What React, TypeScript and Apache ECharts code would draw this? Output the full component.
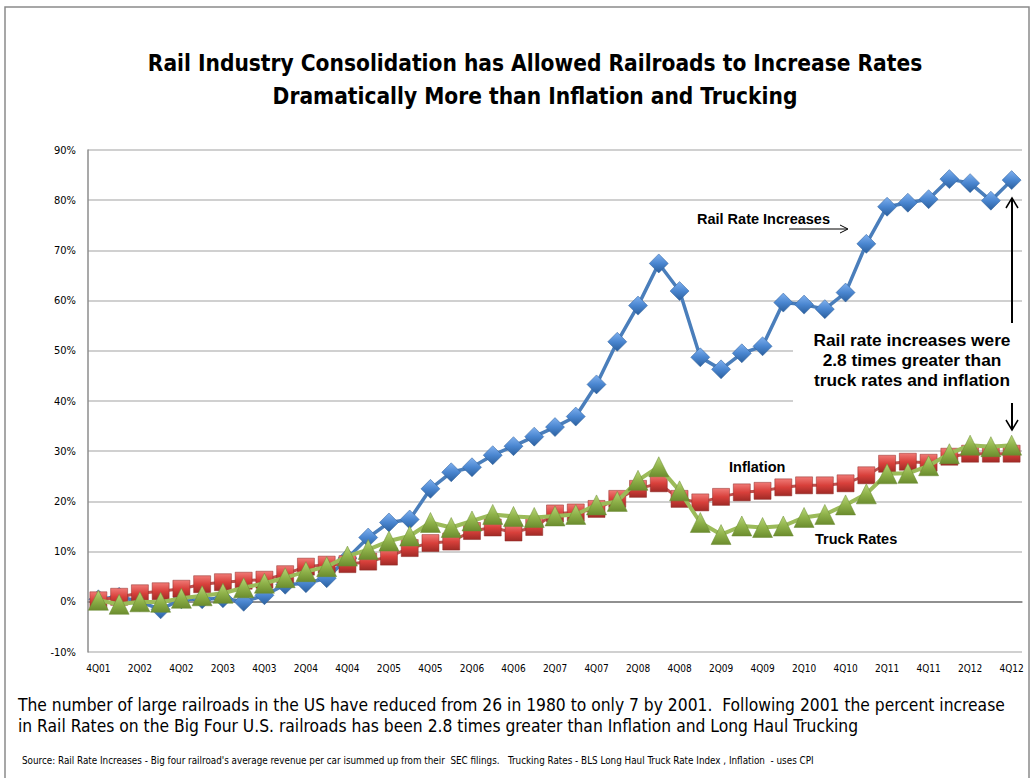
import React, { useEffect, useRef } from "react";
import * as echarts from "echarts";

const quarters = [
  "4Q01", "1Q02", "2Q02", "3Q02", "4Q02", "1Q03", "2Q03", "3Q03", "4Q03",
  "1Q04", "2Q04", "3Q04", "4Q04", "1Q05", "2Q05", "3Q05", "4Q05",
  "1Q06", "2Q06", "3Q06", "4Q06", "1Q07", "2Q07", "3Q07", "4Q07",
  "1Q08", "2Q08", "3Q08", "4Q08", "1Q09", "2Q09", "3Q09", "4Q09",
  "1Q10", "2Q10", "3Q10", "4Q10", "1Q11", "2Q11", "3Q11", "4Q11",
  "1Q12", "2Q12", "3Q12", "4Q12",
];

const railRates = [
  0.5, 1, 0, -1.5, 0.5, 0.5, 0.7, 0, 1.3, 3.4, 3.7, 4.7, 8.7, 12.8, 15.8, 16.4,
  22.5, 25.8, 26.8, 29.2, 31, 32.9, 34.8, 36.9, 43.3, 51.8, 59, 67.4, 61.9,
  48.7, 46.3, 49.5, 50.9, 59.6, 59.2, 58.3, 61.6, 71.3, 78.7, 79.5, 80.2, 84.2,
  83.4, 79.9, 84,
];

const inflation = [
  0.3, 1, 1.7, 2.1, 2.6, 3.5, 3.9, 4.2, 4.4, 5.5, 7, 7.4, 7.5, 8, 9, 10.7, 11.7,
  12, 14.1, 14.8, 13.8, 14.9, 17.6, 17.8, 18.5, 20.5, 22.5, 23.6, 20.5, 19.8,
  20.9, 21.8, 22.1, 22.8, 23.2, 23.2, 23.6, 25.2, 27.5, 27.9, 27.7, 28.9, 29.5,
  29.5, 29.5,
];

const truckRates = [
  0.3, -0.5, 0, -0.1, 0.7, 1.2, 1.7, 2.8, 3.7, 4.8, 6, 7, 9.1, 10.4, 12.1, 13.1,
  15.8, 14.8, 16.1, 17.4, 17, 16.8, 17.1, 17.4, 19.3, 20, 24.2, 26.9, 22.1,
  15.8, 13.4, 15.1, 14.8, 15.1, 16.8, 17.4, 19.3, 21.5, 25.5, 25.6, 27.1, 29.5,
  31.2, 30.9, 31.2,
];

const titleLines = [
  "Rail Industry Consolidation has Allowed Railroads to Increase Rates",
  "Dramatically More than Inflation and Trucking",
];

const footnoteLines = [
  "The number of large railroads in the US have reduced from 26 in 1980 to only 7 by 2001.  Following 2001 the percent increase",
  "in Rail Rates on the Big Four U.S. railroads has been 2.8 times greater than Inflation and Long Haul Trucking",
];

const sourceText =
  "Source: Rail Rate Increases - Big four railroad's average revenue per car isummed up from their  SEC filings.   Trucking Rates - BLS Long Haul Truck Rate Index , Inflation  - uses CPI";

const calloutLines = [
  "Rail rate increases were",
  "2.8 times greater than",
  "truck rates and inflation",
];

const grad = (top: string, mid: string, bottom: string) => ({
  type: "linear",
  x: 0,
  y: 0,
  x2: 0,
  y2: 1,
  colorStops: [
    { offset: 0, color: top },
    { offset: 0.5, color: mid },
    { offset: 1, color: bottom },
  ],
});

const NARROW = "'Liberation Sans Narrow', 'DejaVu Sans Condensed', 'Liberation Sans', sans-serif";
const SANS = "'Liberation Sans', Arial, sans-serif";

export default function App() {
  const ref = useRef<HTMLDivElement>(null);

  useEffect(() => {
    document.body.style.margin = "0";
    const chart = echarts.init(ref.current!, undefined, { renderer: "svg" });
    const option: any = {
      animation: false,
      backgroundColor: "#ffffff",
      grid: { left: 88, right: 14, top: 150, bottom: 126 },
      xAxis: {
        type: "category",
        data: quarters,
        boundaryGap: true,
        axisLine: { show: true, lineStyle: { color: "#8c8c8c", width: 1.5 } },
        axisTick: { show: false },
        axisLabel: {
          interval: 1,
          fontSize: 10,
          color: "#000",
          margin: 11,
          fontFamily: "'DejaVu Sans Condensed', sans-serif",
        },
        splitLine: { show: false },
      },
      yAxis: {
        type: "value",
        min: -10,
        max: 90,
        interval: 10,
        axisLine: { show: true, lineStyle: { color: "#8c8c8c", width: 1.5 } },
        axisTick: { show: false },
        axisLabel: {
          formatter: "{value}%",
          fontSize: 11,
          color: "#000",
          margin: 12,
          fontFamily: "'DejaVu Sans Condensed', sans-serif",
        },
        splitLine: { show: true, lineStyle: { color: "#c0c0c0", width: 1.5 } },
      },
      series: [
        {
          name: "Rail Rate Increases",
          type: "line",
          data: railRates,
          symbol: "diamond",
          symbolSize: 19,
          showSymbol: true,
          showAllSymbol: true,
          z: 3,
          lineStyle: { color: "#4a7ebb", width: 3.5 },
          itemStyle: {
            color: grad("#7fb0ef", "#4a86d0", "#2a5f9e"),
            borderColor: "#2f5f98",
            borderWidth: 0.5,
          },
          markLine: {
            silent: true,
            symbol: "none",
            label: { show: false },
            lineStyle: { color: "#8c8c8c", width: 1.5, type: "solid" },
            data: [{ yAxis: 0 }],
            z: 1,
          },
        },
        {
          name: "Inflation",
          type: "line",
          data: inflation,
          symbol: "rect",
          symbolSize: 17,
          showSymbol: true,
          showAllSymbol: true,
          z: 4,
          lineStyle: { color: "#c0504d", width: 3 },
          itemStyle: {
            color: grad("#f07a76", "#d8403b", "#a02a26"),
            borderColor: "#8f2a27",
            borderWidth: 0.5,
          },
        },
        {
          name: "Truck Rates",
          type: "line",
          data: truckRates,
          symbol: "triangle",
          symbolSize: 20,
          showSymbol: true,
          showAllSymbol: true,
          z: 5,
          lineStyle: { color: "#9bbb59", width: 4 },
          itemStyle: {
            color: grad("#b9d77a", "#8fb24a", "#6b8c2e"),
            borderColor: "#6b8a32",
            borderWidth: 0.5,
          },
        },
      ],
      graphic: [
        {
          type: "rect",
          z: -10,
          shape: { x: 5, y: 7, width: 1024, height: 775 },
          style: { fill: "none", stroke: "#8a8a8a", lineWidth: 1.5 },
        },
        {
          type: "rect",
          z: 1,
          shape: { x: 793, y: 320, width: 231, height: 82 },
          style: { fill: "#ffffff" },
        },
        ...titleLines.map((t, i) => ({
          type: "text",
          z: 10,
          x: 535,
          y: 63 + i * 33,
          style: {
            text: t,
            fill: "#000",
            font: `bold 22.5px ${NARROW}`,
            textAlign: "center",
            textVerticalAlign: "middle",
          },
        })),
        {
          type: "text",
          z: 10,
          x: 697,
          y: 219,
          style: {
            text: "Rail Rate Increases",
            fill: "#000",
            font: `bold 14.5px ${SANS}`,
            textAlign: "left",
            textVerticalAlign: "middle",
          },
        },
        {
          type: "line",
          z: 10,
          shape: { x1: 789, y1: 229, x2: 847, y2: 229 },
          style: { stroke: "#000", lineWidth: 1 },
        },
        {
          type: "polyline",
          z: 10,
          shape: { points: [[840, 225], [848, 229], [840, 233]] },
          style: { stroke: "#000", lineWidth: 1, fill: "none" },
        },
        {
          type: "line",
          z: 10,
          shape: { x1: 1012, y1: 323, x2: 1012, y2: 198 },
          style: { stroke: "#000", lineWidth: 2 },
        },
        {
          type: "polyline",
          z: 10,
          shape: { points: [[1006, 208], [1012, 198], [1018, 208]] },
          style: { stroke: "#000", lineWidth: 1.5, fill: "none" },
        },
        {
          type: "line",
          z: 10,
          shape: { x1: 1012, y1: 403, x2: 1012, y2: 430 },
          style: { stroke: "#000", lineWidth: 2 },
        },
        {
          type: "polyline",
          z: 10,
          shape: { points: [[1006, 420], [1012, 430], [1018, 420]] },
          style: { stroke: "#000", lineWidth: 1.5, fill: "none" },
        },
        ...calloutLines.map((t, i) => ({
          type: "text",
          z: 10,
          x: 912,
          y: 340 + i * 20,
          style: {
            text: t,
            fill: "#000",
            font: `bold 17.3px ${SANS}`,
            textAlign: "center",
            textVerticalAlign: "middle",
          },
        })),
        {
          type: "text",
          z: 10,
          x: 729,
          y: 467,
          style: {
            text: "Inflation",
            fill: "#000",
            font: `bold 14.5px ${SANS}`,
            textAlign: "left",
            textVerticalAlign: "middle",
          },
        },
        {
          type: "text",
          z: 10,
          x: 815,
          y: 539,
          style: {
            text: "Truck Rates",
            fill: "#000",
            font: `bold 14.5px ${SANS}`,
            textAlign: "left",
            textVerticalAlign: "middle",
          },
        },
        ...footnoteLines.map((t, i) => ({
          type: "text",
          z: 10,
          x: 18,
          y: 705 + i * 21,
          style: {
            text: t,
            fill: "#000",
            font: `17.3px ${NARROW}`,
            textAlign: "left",
            textVerticalAlign: "middle",
          },
        })),
        {
          type: "text",
          z: 10,
          x: 22,
          y: 760,
          style: {
            text: sourceText,
            fill: "#000",
            font: `9.8px ${NARROW}`,
            textAlign: "left",
            textVerticalAlign: "middle",
          },
        },
      ],
    };
    chart.setOption(option);
    return () => chart.dispose();
  }, []);

  return <div ref={ref} style={{ width: 1036, height: 778 }} />;
}
